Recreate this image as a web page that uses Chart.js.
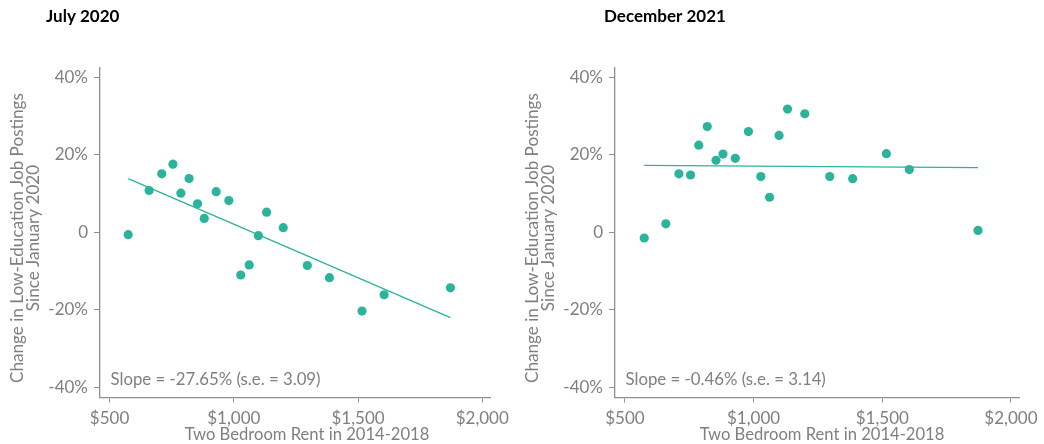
<!DOCTYPE html>
<html>
<head>
<meta charset="utf-8">
<script src="https://cdn.jsdelivr.net/npm/chart.js@4.4.0/dist/chart.umd.min.js"></script>
<style>
  html, body { margin: 0; padding: 0; background: #fff; }
  body { width: 1044px; height: 444px; position: relative; overflow: hidden; }
  .box { position: absolute; top: 0; height: 444px; }
  #b1 { left: 0; width: 515px; }
  #b2 { left: 515px; width: 529px; }
</style>
</head>
<body>
<div class="box" id="b1"><canvas id="c1"></canvas></div>
<div class="box" id="b2"><canvas id="c2"></canvas></div>
<script>
// ---- data ----
const rent = [575, 659, 710, 755, 787, 820, 854, 881, 929, 980, 1028, 1062, 1099, 1132, 1199, 1296, 1385, 1516, 1605, 1872];
const july2020 = [-0.6, 10.8, 15.1, 17.6, 10.1, 13.9, 7.35, 3.6, 10.5, 8.2, -11.0, -8.4, -0.85, 5.2, 1.2, -8.55, -11.7, -20.3, -16.1, -14.3];
const dec2021 = [-1.45, 2.2, 15.1, 14.8, 22.5, 27.3, 18.6, 20.2, 19.1, 26.0, 14.4, 9.06, 25.0, 31.8, 30.6, 14.4, 13.85, 20.3, 16.2, 0.5];
const fitX = [575, 1872];
const fitJuly = [13.85, -22.0];
const fitDec = [17.3, 16.7];
const xTicks = [500, 1000, 1500, 2000];
const xTickLabels = ['$500', '$1,000', '$1,500', '$2,000'];
const yTicks = [-40, -20, 0, 20, 40];
const yTickLabels = ['-40%', '-20%', '0', '20%', '40%'];
const panelTitles = ['July 2020', 'December 2021'];
const slopeTexts = ['Slope = -27.65% (s.e. = 3.09)', 'Slope = -0.46% (s.e. = 3.14)'];
const yTitle = ['Change in Low-Education Job Postings', 'Since January 2020'];
const xTitle = 'Two Bedroom Rent in 2014-2018';

const TEAL = '#2bb49b';
const GREY_TXT = '#7f7f7f';
const AXIS = '#8f8f8f';
const FONT = 'Lato, "Open Sans", sans-serif';

function makeChart(id, values, fitY, title, slope, titleX) {
  const textPlugin = {
    id: 'texts',
    afterDraw(chart) {
      const ctx = chart.ctx;
      const a = chart.chartArea;
      ctx.save();
      // panel title
      ctx.fillStyle = '#000';
      ctx.font = 'bold 17px ' + FONT;
      ctx.textBaseline = 'middle';
      ctx.textAlign = 'left';
      ctx.fillText(title, titleX, 17);
      // slope annotation
      ctx.fillStyle = GREY_TXT;
      ctx.font = '16.8px ' + FONT;
      ctx.fillText(slope, a.left + 10.5, 380);
      // x axis title
      ctx.textAlign = 'center';
      ctx.font = '16.6px ' + FONT;
      ctx.fillText(xTitle, a.left + 207, 435);
      // y axis title (two lines, rotated)
      ctx.font = '17.1px ' + FONT;
      ctx.translate(a.left - 83, 238);
      ctx.rotate(-Math.PI / 2);
      ctx.fillText(yTitle[0], 0, 0);
      ctx.fillText(yTitle[1], 0, 16);
      ctx.restore();
    }
  };
  return new Chart(document.getElementById(id), {
    type: 'scatter',
    data: {
      datasets: [
        {
          type: 'scatter',
          data: rent.map((r, i) => ({x: r, y: values[i]})),
          backgroundColor: TEAL,
          borderColor: TEAL,
          borderWidth: 0,
          pointRadius: 4.6,
          order: 1
        },
        {
          type: 'line',
          data: fitX.map((r, i) => ({x: r, y: fitY[i]})),
          borderColor: TEAL,
          borderWidth: 1.3,
          pointRadius: 0,
          fill: false,
          order: 2
        }
      ]
    },
    options: {
      responsive: true,
      maintainAspectRatio: false,
      animation: false,
      layout: { padding: { top: 68, left: 0, right: id === 'c1' ? 7 : 21, bottom: 0 } },
      plugins: { legend: { display: false }, tooltip: { enabled: false }, title: { display: false } },
      scales: {
        x: {
          type: 'linear',
          min: 461.5,
          max: 2035,
          afterBuildTicks(s) { s.ticks = xTicks.map(v => ({value: v})); },
          afterFit(s) { s.height = 46.5; },
          ticks: {
            callback: (v) => xTickLabels[xTicks.indexOf(v)],
            color: GREY_TXT,
            font: { family: FONT, size: 17 },
            padding: 6,
            maxRotation: 0,
            autoSkip: false
          },
          grid: { display: true, drawOnChartArea: false, drawTicks: true, tickLength: 5, color: AXIS, lineWidth: 1 },
          border: { display: true, color: AXIS, width: 1.3 },
          title: { display: false }
        },
        y: {
          type: 'linear',
          min: -42.6,
          max: 42.4,
          afterBuildTicks(s) { s.ticks = yTicks.map(v => ({value: v})); },
          afterFit(s) { s.width = 100; },
          ticks: {
            callback: (v) => yTickLabels[yTicks.indexOf(v)],
            color: GREY_TXT,
            font: { family: FONT, size: 17 },
            padding: 6,
            autoSkip: false
          },
          grid: { display: true, drawOnChartArea: false, drawTicks: true, tickLength: 6, color: AXIS, lineWidth: 1 },
          border: { display: true, color: AXIS, width: 1.3 },
          title: { display: false }
        }
      }
    },
    plugins: [textPlugin]
  });
}

makeChart('c1', july2020, fitJuly, panelTitles[0], slopeTexts[0], 46);
makeChart('c2', dec2021, fitDec, panelTitles[1], slopeTexts[1], 89);
</script>
</body>
</html>
